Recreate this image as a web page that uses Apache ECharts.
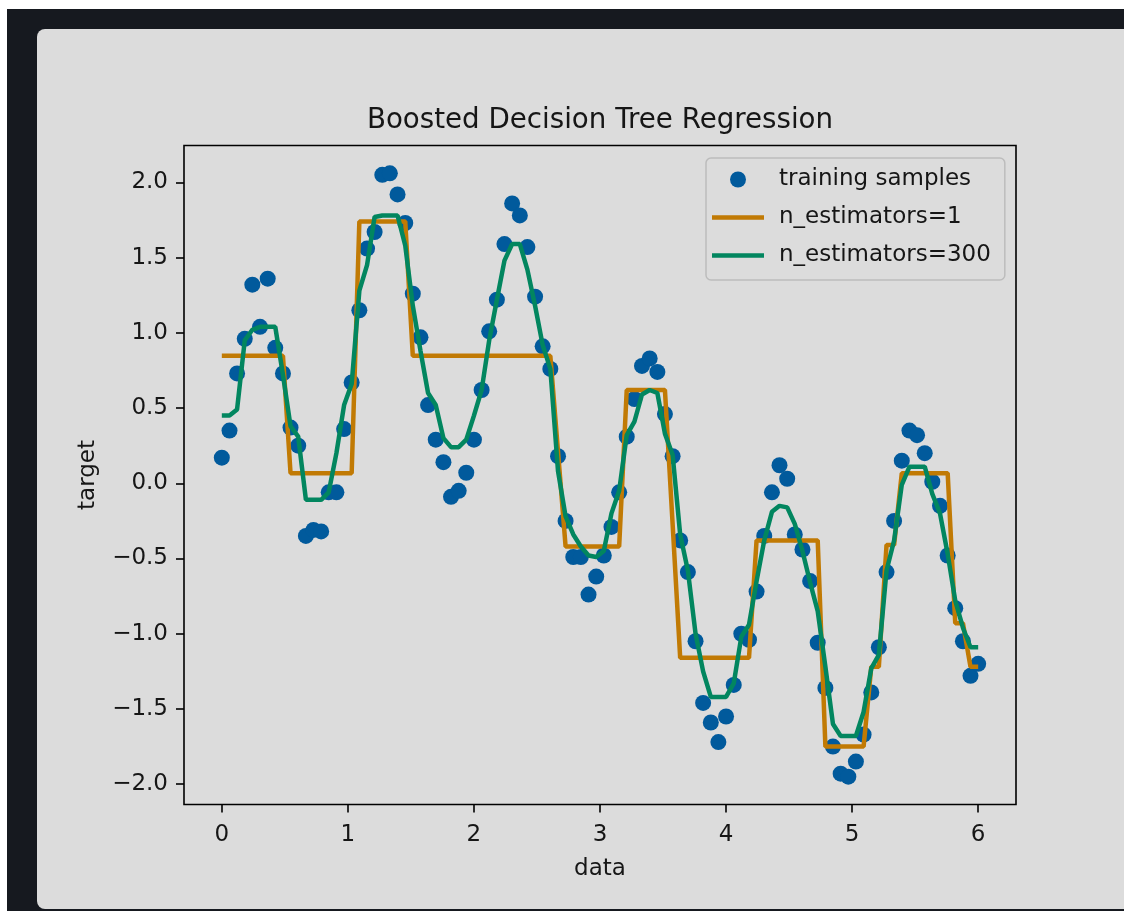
<!DOCTYPE html>
<html>
<head>
<meta charset="utf-8">
<title>Boosted Decision Tree Regression</title>
<script src="https://cdn.jsdelivr.net/npm/echarts@6/dist/echarts.min.js"></script>
<style>
    html, body { margin: 0; padding: 0; width: 1124px; height: 911px; overflow: hidden; background: #ffffff; }
    #frame { position: absolute; left: 7px; top: 9px; width: 1117px; height: 902px; background: #16191f; }
    #card { position: absolute; left: 37px; top: 29px; width: 1100px; height: 880px; background: #dcdcdc; border-radius: 8px; }
    #chart { position: absolute; left: 0; top: 0; width: 1124px; height: 911px; }
</style>
</head>
<body>
<div id="frame"></div>
<div id="card"></div>
<div id="chart"></div>
<script>
// x positions of the 100 samples (evenly spaced 0..6)
var xs = [0, 0.061, 0.121, 0.182, 0.242, 0.303, 0.364, 0.424, 0.485, 0.545,
    0.606, 0.667, 0.727, 0.788, 0.848, 0.909, 0.970, 1.030, 1.091, 1.152,
    1.212, 1.273, 1.333, 1.394, 1.455, 1.515, 1.576, 1.636, 1.697, 1.758,
    1.818, 1.879, 1.939, 2.000, 2.061, 2.121, 2.182, 2.242, 2.303, 2.364,
    2.424, 2.485, 2.545, 2.606, 2.667, 2.727, 2.788, 2.848, 2.909, 2.970,
    3.030, 3.091, 3.152, 3.212, 3.273, 3.333, 3.394, 3.455, 3.515, 3.576,
    3.636, 3.697, 3.758, 3.818, 3.879, 3.939, 4.000, 4.061, 4.121, 4.182,
    4.242, 4.303, 4.364, 4.424, 4.485, 4.545, 4.606, 4.667, 4.727, 4.788,
    4.848, 4.909, 4.970, 5.030, 5.091, 5.152, 5.212, 5.273, 5.333, 5.394,
    5.455, 5.515, 5.576, 5.636, 5.697, 5.758, 5.818, 5.879, 5.939, 6.000];

// training samples (target values)
var samples = [0.17, 0.35, 0.73, 0.96, 1.32, 1.04, 1.36, 0.90, 0.73, 0.37,
    0.25, -0.35, -0.31, -0.32, -0.06, -0.06, 0.36, 0.67, 1.15, 1.56,
    1.67, 2.05, 2.06, 1.92, 1.73, 1.26, 0.97, 0.52, 0.29, 0.14,
    -0.09, -0.05, 0.07, 0.29, 0.62, 1.01, 1.22, 1.59, 1.86, 1.78,
    1.57, 1.24, 0.91, 0.76, 0.18, -0.25, -0.49, -0.49, -0.74, -0.62,
    -0.48, -0.29, -0.06, 0.31, 0.56, 0.78, 0.83, 0.74, 0.46, 0.18,
    -0.38, -0.59, -1.05, -1.46, -1.59, -1.72, -1.55, -1.34, -1.00, -1.04,
    -0.72, -0.35, -0.06, 0.12, 0.03, -0.34, -0.44, -0.65, -1.06, -1.36,
    -1.75, -1.93, -1.95, -1.85, -1.67, -1.39, -1.09, -0.59, -0.25, 0.15,
    0.35, 0.32, 0.20, 0.01, -0.15, -0.48, -0.83, -1.05, -1.28, -1.20];

// prediction, n_estimators=1
var pred1 = [0.847, 0.847, 0.847, 0.847, 0.847, 0.847, 0.847, 0.847, 0.847, 0.067,
    0.067, 0.067, 0.067, 0.067, 0.067, 0.067, 0.067, 0.067, 1.74, 1.74,
    1.74, 1.74, 1.74, 1.74, 1.74, 0.847, 0.847, 0.847, 0.847, 0.847,
    0.847, 0.847, 0.847, 0.847, 0.847, 0.847, 0.847, 0.847, 0.847, 0.847,
    0.847, 0.847, 0.847, 0.847, 0.21, -0.42, -0.42, -0.42, -0.42, -0.42,
    -0.42, -0.42, -0.42, 0.62, 0.62, 0.62, 0.62, 0.62, 0.62, -0.27,
    -1.16, -1.16, -1.16, -1.16, -1.16, -1.16, -1.16, -1.16, -1.16, -1.16,
    -0.38, -0.38, -0.38, -0.38, -0.38, -0.38, -0.38, -0.38, -0.38, -1.75,
    -1.75, -1.75, -1.75, -1.75, -1.75, -1.22, -1.22, -0.41, -0.41, 0.067,
    0.067, 0.067, 0.067, 0.067, 0.067, 0.067, -0.93, -0.93, -1.22, -1.22];

// prediction, n_estimators=300
var pred300 = [0.45, 0.45, 0.49, 0.95, 1.02, 1.04, 1.04, 1.04, 0.72, 0.38,
    0.31, -0.11, -0.11, -0.11, -0.06, 0.20, 0.52, 0.66, 1.28, 1.45,
    1.77, 1.78, 1.78, 1.78, 1.58, 1.18, 0.88, 0.60, 0.52, 0.30,
    0.24, 0.24, 0.29, 0.45, 0.62, 0.95, 1.22, 1.48, 1.59, 1.59,
    1.42, 1.18, 0.92, 0.76, 0.08, -0.22, -0.34, -0.42, -0.48, -0.49,
    -0.45, -0.20, -0.05, 0.32, 0.41, 0.59, 0.62, 0.60, 0.33, 0.19,
    -0.34, -0.58, -1.00, -1.25, -1.42, -1.42, -1.42, -1.33, -1.02, -0.94,
    -0.65, -0.38, -0.19, -0.15, -0.16, -0.27, -0.45, -0.66, -0.85, -1.22,
    -1.60, -1.68, -1.68, -1.68, -1.52, -1.23, -1.14, -0.58, -0.38, -0.01,
    0.11, 0.11, 0.11, -0.07, -0.20, -0.47, -0.78, -0.96, -1.09, -1.09];

var xTicks = [0, 1, 2, 3, 4, 5, 6];
var yTicks = [-2.0, -1.5, -1.0, -0.5, 0.0, 0.5, 1.0, 1.5, 2.0];

var font = 'DejaVu Sans';
var ink = '#161616';
// legend swatch for the line series: a flat bar, no marker
var lineIcon = 'path://M0,0H104V9H0Z';

function pairs(ys) {
    return xs.map(function (x, i) { return [x, ys[i]]; });
}

var chart = echarts.init(document.getElementById('chart'));
var option = {
    animation: false,
    backgroundColor: 'transparent',
    textStyle: { fontFamily: font },
    title: {
        text: 'Boosted Decision Tree Regression',
        left: 595,
        textAlign: 'center',
        top: 102,
        textStyle: { fontFamily: font, fontSize: 27.7, fontWeight: 'normal', color: ink }
    },
    legend: {
        orient: 'vertical',
        left: 706,
        top: 158,
        padding: [10, 14, 13, 6],
        itemGap: 15,
        itemWidth: 52,
        itemHeight: 16,
        selectedMode: false,
        backgroundColor: '#dcdcdc',
        borderColor: '#bcbcbc',
        borderWidth: 1.5,
        borderRadius: 5,
        textStyle: { fontFamily: font, fontSize: 23, color: ink, padding: [0, 0, 0, 10] },
        data: [
            { name: 'training samples', icon: 'circle' },
            { name: 'n_estimators=1', icon: lineIcon },
            { name: 'n_estimators=300', icon: lineIcon }
        ]
    },
    grid: {
        left: 184, top: 145.5, width: 832, height: 659,
        show: true, borderColor: '#000', borderWidth: 1.6, backgroundColor: 'transparent'
    },
    xAxis: {
        type: 'value', min: -0.3, max: 6.3,
        name: 'data', nameLocation: 'middle', nameGap: 53,
        nameTextStyle: { fontFamily: font, fontSize: 23, color: ink },
        axisLine: { show: false, onZero: false },
        splitLine: { show: false },
        axisTick: { show: true, inside: false, length: 8, lineStyle: { color: '#000', width: 1.6 }, customValues: xTicks },
        axisLabel: {
            customValues: xTicks, margin: 19, fontFamily: font, fontSize: 23, color: ink,
            formatter: function (v) { return String(v); }
        }
    },
    yAxis: {
        type: 'value', min: -2.135, max: 2.245,
        name: 'target', nameLocation: 'middle', nameGap: 84, nameRotate: 90,
        nameTextStyle: { fontFamily: font, fontSize: 23, color: ink },
        axisLine: { show: false, onZero: false },
        splitLine: { show: false },
        axisTick: { show: true, inside: false, length: 8, lineStyle: { color: '#000', width: 1.6 }, customValues: yTicks },
        axisLabel: {
            customValues: yTicks, margin: 16, fontFamily: font, fontSize: 23, color: ink,
            formatter: function (v) { return (v < 0 ? '\u2212' : '') + Math.abs(v).toFixed(1); }
        }
    },
    series: [
        {
            name: 'training samples', type: 'scatter', symbol: 'circle', symbolSize: 16,
            itemStyle: { color: '#015a9c', opacity: 1 },
            data: pairs(samples)
        },
        {
            name: 'n_estimators=1', type: 'line', symbol: 'none',
            lineStyle: { color: '#c17a04', width: 4.5 }, itemStyle: { color: '#c17a04' },
            data: pairs(pred1)
        },
        {
            name: 'n_estimators=300', type: 'line', symbol: 'none',
            lineStyle: { color: '#02865f', width: 4.5 }, itemStyle: { color: '#02865f' },
            data: pairs(pred300)
        }
    ]
};
chart.setOption(option);
</script>
</body>
</html>
